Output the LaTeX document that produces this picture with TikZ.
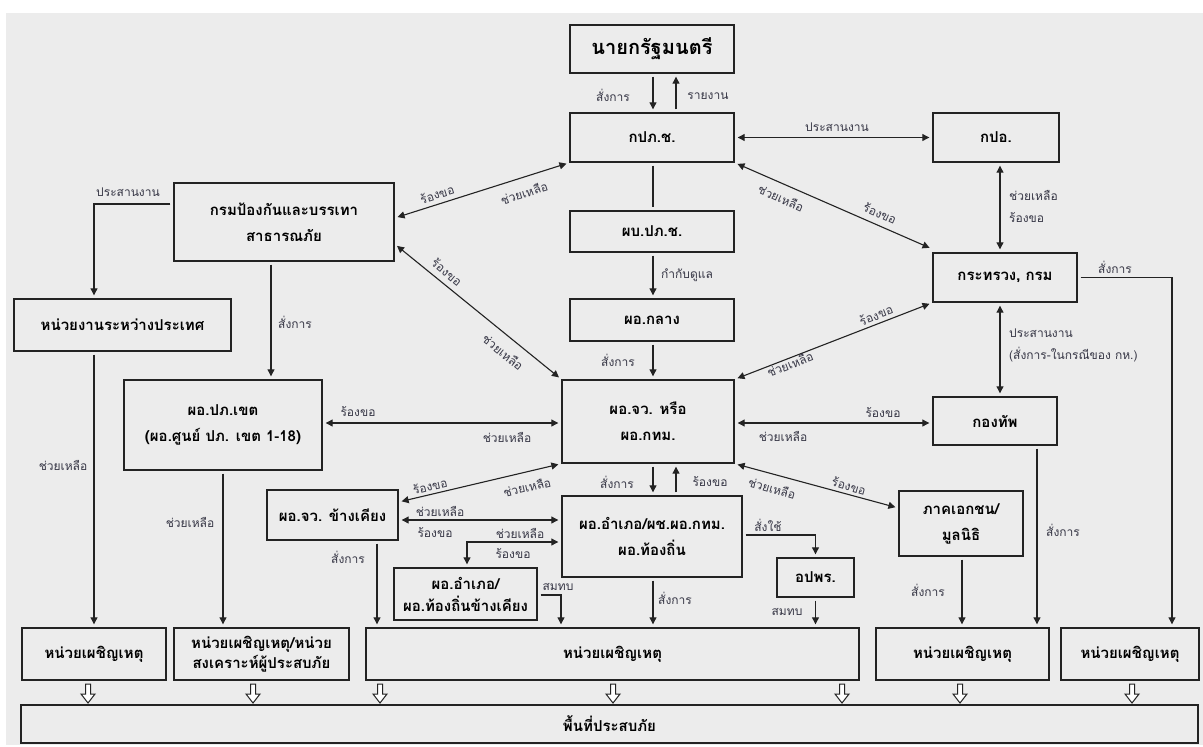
\documentclass[tikz,border=0pt]{standalone}
\usepackage{fontspec}
\setmainfont[Script=Thai]{Loma}
\usetikzlibrary{arrows.meta}
\definecolor{bg}{RGB}{236,236,236}
\definecolor{lbl}{RGB}{55,55,70}
\definecolor{ln}{RGB}{35,35,35}
\begin{document}
\begin{tikzpicture}[x=1pt,y=-1pt,
  box/.style={draw=ln, line width=1.4pt, inner sep=2pt, align=center,
    font=\fontsize{15}{26}\selectfont\bfseries, text=black},
  lab/.style={font=\fontsize{12}{14}\selectfont, text=lbl, inner sep=0pt},
  con/.style={draw=ln, line width=1.1pt, shorten <=3pt, shorten >=3pt},
  arr/.style={con, -{Triangle[length=7pt,width=7pt]}},
  darr/.style={con, {Triangle[length=7pt,width=7pt]}-{Triangle[length=7pt,width=7pt]}},
  hollow/.style={draw=ln, line width=1pt, fill=white}
]
\useasboundingbox[fill=white] (0,0) rectangle (1203,747);
\fill[bg] (6,13) rectangle (1203,745);

% boxes
\node[box, minimum width=164pt, minimum height=48pt, font=\fontsize{20}{22}\selectfont\bfseries] (pm) at (652,49) {นายกรัฐมนตรี};
\node[box, minimum width=164pt, minimum height=49pt] (dpm) at (652,137.5) {กปภ.ช.};
\node[box, minimum width=164pt, minimum height=41pt] (cmd) at (652,231.5) {ผบ.ปภ.ช.};
\node[box, minimum width=164pt, minimum height=42pt] (cen) at (652,320) {ผอ.กลาง};
\node[box, minimum width=172pt, minimum height=83pt] (prov) at (648,421.5) {ผอ.จว. หรือ\\ผอ.กทม.};
\node[box, minimum width=180pt, minimum height=81pt] (dist) at (652,536.5) {ผอ.อำเภอ/ผช.ผอ.กทม.\\ผอ.ท้องถิ่น};
\node[box, minimum width=126pt, minimum height=49pt] (kpo) at (996,137.5) {กปอ.};
\node[box, minimum width=144pt, minimum height=49pt] (min) at (1005,277.5) {กระทรวง, กรม};
\node[box, minimum width=124pt, minimum height=48pt] (army) at (995,421) {กองทัพ};
\node[box, minimum width=124pt, minimum height=65pt] (priv) at (961,523.5) {ภาคเอกชน/\\มูลนิธิ};
\node[box, minimum width=77pt, minimum height=39pt] (vol) at (815.5,577.5) {อปพร.};
\node[box, minimum width=220pt, minimum height=78pt] (ddpm) at (284,222) {กรมป้องกันและบรรเทา\\สาธารณภัย};
\node[box, minimum width=217pt, minimum height=52pt] (intl) at (122.5,325) {หน่วยงานระหว่างประเทศ};
\node[box, minimum width=198pt, minimum height=90pt] (reg) at (223,425) {ผอ.ปภ.เขต\\(ผอ.ศูนย์ ปภ. เขต 1-18)};
\node[box, minimum width=131pt, minimum height=50pt] (nprov) at (332.5,515) {ผอ.จว. ข้างเคียง};
\node[box, minimum width=143pt, minimum height=52pt, font=\fontsize{15}{22}\selectfont\bfseries] (ndist) at (465.5,594) {ผอ.อำเภอ/\\ผอ.ท้องถิ่นข้างเคียง};
\node[box, minimum width=144pt, minimum height=52pt] (r1) at (94,654) {หน่วยเผชิญเหตุ};
\node[box, minimum width=175pt, minimum height=52pt, font=\fontsize{15}{20}\selectfont\bfseries] (r2) at (261.5,654) {หน่วยเผชิญเหตุ/หน่วย\\สงเคราะห์ผู้ประสบภัย};
\node[box, minimum width=493pt, minimum height=52pt] (r3) at (612.5,654) {หน่วยเผชิญเหตุ};
\node[box, minimum width=173pt, minimum height=52pt] (r4) at (962.5,654) {หน่วยเผชิญเหตุ};
\node[box, minimum width=138pt, minimum height=52pt] (r5) at (1130,654) {หน่วยเผชิญเหตุ};
\node[box, minimum width=1177pt, minimum height=38pt] (area) at (609.5,724) {พื้นที่ประสบภัย};

% connectors
\draw[arr] (pm.south -| 653,0) -- (dpm.north -| 653,0);
\draw[arr] (dpm.north -| 676,0) -- (pm.south -| 676,0);
\draw[darr] (dpm.east) -- (kpo.west);
\draw[con] (dpm.south -| 653,0) -- (cmd.north -| 653,0);
\draw[arr] (cmd.south -| 653,0) -- (cen.north -| 653,0);
\draw[arr] (cen.south -| 653,0) -- (prov.north -| 653,0);
\draw[arr] (prov.south -| 653,0) -- (dist.north -| 653,0);
\draw[arr] (dist.north -| 676,0) -- (prov.south -| 676,0);
\draw[darr] (kpo.south -| 1000,0) -- (min.north -| 1000,0);
\draw[arr] (min.east) -- (1172,0 |- min.east) -- (r5.north -| 1172,0);
\draw[darr] (min.south -| 1000,0) -- (army.north -| 1000,0);
\draw[arr] (army.south -| 1037,0) -- (r4.north -| 1037,0);
\draw[darr] (prov.east |- 0,423) -- (army.west |- 0,423);
\draw[darr] (prov.south east) -- (priv.west |- 0,508);
\draw[arr] (priv.south -| 962,0) -- (r4.north -| 962,0);
\draw[arr] (dist.east |- 0,535) -| (vol.north);
\draw[arr] (vol.south) -- (r3.north -| vol.south);
\draw[arr] (ddpm.west |- 0,204) -| (intl.north -| 94,0);
\draw[arr] (intl.south -| r1.north) -- (r1.north);
\draw[arr] (ddpm.south -| 271,0) -- (reg.north -| 271,0);
\draw[arr] (reg.south -| 223,0) -- (r2.north -| 223,0);
\draw[darr] (reg.east |- 0,423) -- (prov.west |- 0,423);
\draw[arr] (nprov.south -| 377,0) -- (r3.north -| 377,0);
\draw[darr] (nprov.east |- 0,502) -- (prov.south west);
\draw[darr] (nprov.east |- 0,520) -- (dist.west |- 0,520);
\draw[darr] (dist.west |- 0,542) -| (ndist.north -| 467,0);
\draw[arr] (ndist.east |- 0,595) -| (r3.north -| 561,0);
\draw[arr] (dist.south -| 653,0) -- (r3.north -| 653,0);
\draw[darr] (ddpm.east |- 0,218) -- (dpm.south west);
\draw[darr] (ddpm.east |- 0,244) -- (prov.north west);
\draw[darr] (dpm.south east) -- (min.west |- 0,249);
\draw[darr] (prov.north east) -- (min.south west);

% hollow arrows to the affected area
\foreach \x in {88,253,380,613,842,960,1132}
  \draw[hollow] (\x-2.5,684) -- (\x+2.5,684) -- (\x+2.5,694) -- (\x+7,694) -- (\x,703) -- (\x-7,694) -- (\x-2.5,694) -- cycle;

% labels
\node[lab] (l1) at (613,95) {สั่งการ};
\node[lab] (l2) at (708,96) {รายงาน};
\node[lab] (l3) at (837,127) {ประสานงาน};
\node[lab] (l4) at (687,275) {กำกับดูแล};
\node[lab] (l5) at (618,360) {สั่งการ};
\node[lab] (l6) at (617,482) {สั่งการ};
\node[lab] (l7) at (710,482) {ร้องขอ};
\node[lab, anchor=west] (l8) at (1009,195) {ช่วยเหลือ};
\node[lab, anchor=west] (l9) at (1009,218) {ร้องขอ};
\node[lab] (l10) at (1115,267) {สั่งการ};
\node[lab, anchor=west] (l11) at (1009,333) {ประสานงาน};
\node[lab, anchor=west] (l12) at (1009,355) {(สั่งการ-ในกรณีของ กห.)};
\node[lab] (l13) at (1063,530) {สั่งการ};
\node[lab] (l14) at (883,413) {ร้องขอ};
\node[lab] (l15) at (783,436) {ช่วยเหลือ};
\node[lab, rotate=-16] (l16) at (772,488) {ช่วยเหลือ};
\node[lab, rotate=-16] (l17) at (849,486) {ร้องขอ};
\node[lab] (l18) at (928,590) {สั่งการ};
\node[lab] (l19) at (768,525) {สั่งใช้};
\node[lab] (l20) at (787,612) {สมทบ};
\node[lab] (l21) at (128,192) {ประสานงาน};
\node[lab] (l22) at (63,465) {ช่วยเหลือ};
\node[lab] (l23) at (295,322) {สั่งการ};
\node[lab] (l24) at (190,522) {ช่วยเหลือ};
\node[lab] (l25) at (358,412) {ร้องขอ};
\node[lab] (l26) at (507,437) {ช่วยเหลือ};
\node[lab] (l27) at (348,557) {สั่งการ};
\node[lab, rotate=13] (l28) at (430,486) {ร้องขอ};
\node[lab, rotate=13] (l29) at (527,487) {ช่วยเหลือ};
\node[lab] (l30) at (440,511) {ช่วยเหลือ};
\node[lab] (l31) at (435,533) {ร้องขอ};
\node[lab] (l32) at (520,533) {ช่วยเหลือ};
\node[lab] (l33) at (513,554) {ร้องขอ};
\node[lab] (l34) at (558,587) {สมทบ};
\node[lab] (l35) at (675,598) {สั่งการ};
\node[lab, rotate=17.6] (l36) at (437,194) {ร้องขอ};
\node[lab, rotate=17.6] (l37) at (524,193) {ช่วยเหลือ};
\node[lab, rotate=-39] (l38) at (447,272) {ร้องขอ};
\node[lab, rotate=-39] (l39) at (503,352) {ช่วยเหลือ};
\node[lab, rotate=-24] (l40) at (781,198) {ช่วยเหลือ};
\node[lab, rotate=-24] (l41) at (880,213) {ร้องขอ};
\node[lab, rotate=21.7] (l42) at (876,315) {ร้องขอ};
\node[lab, rotate=21.7] (l43) at (790,364) {ช่วยเหลือ};
\end{tikzpicture}
\end{document}
